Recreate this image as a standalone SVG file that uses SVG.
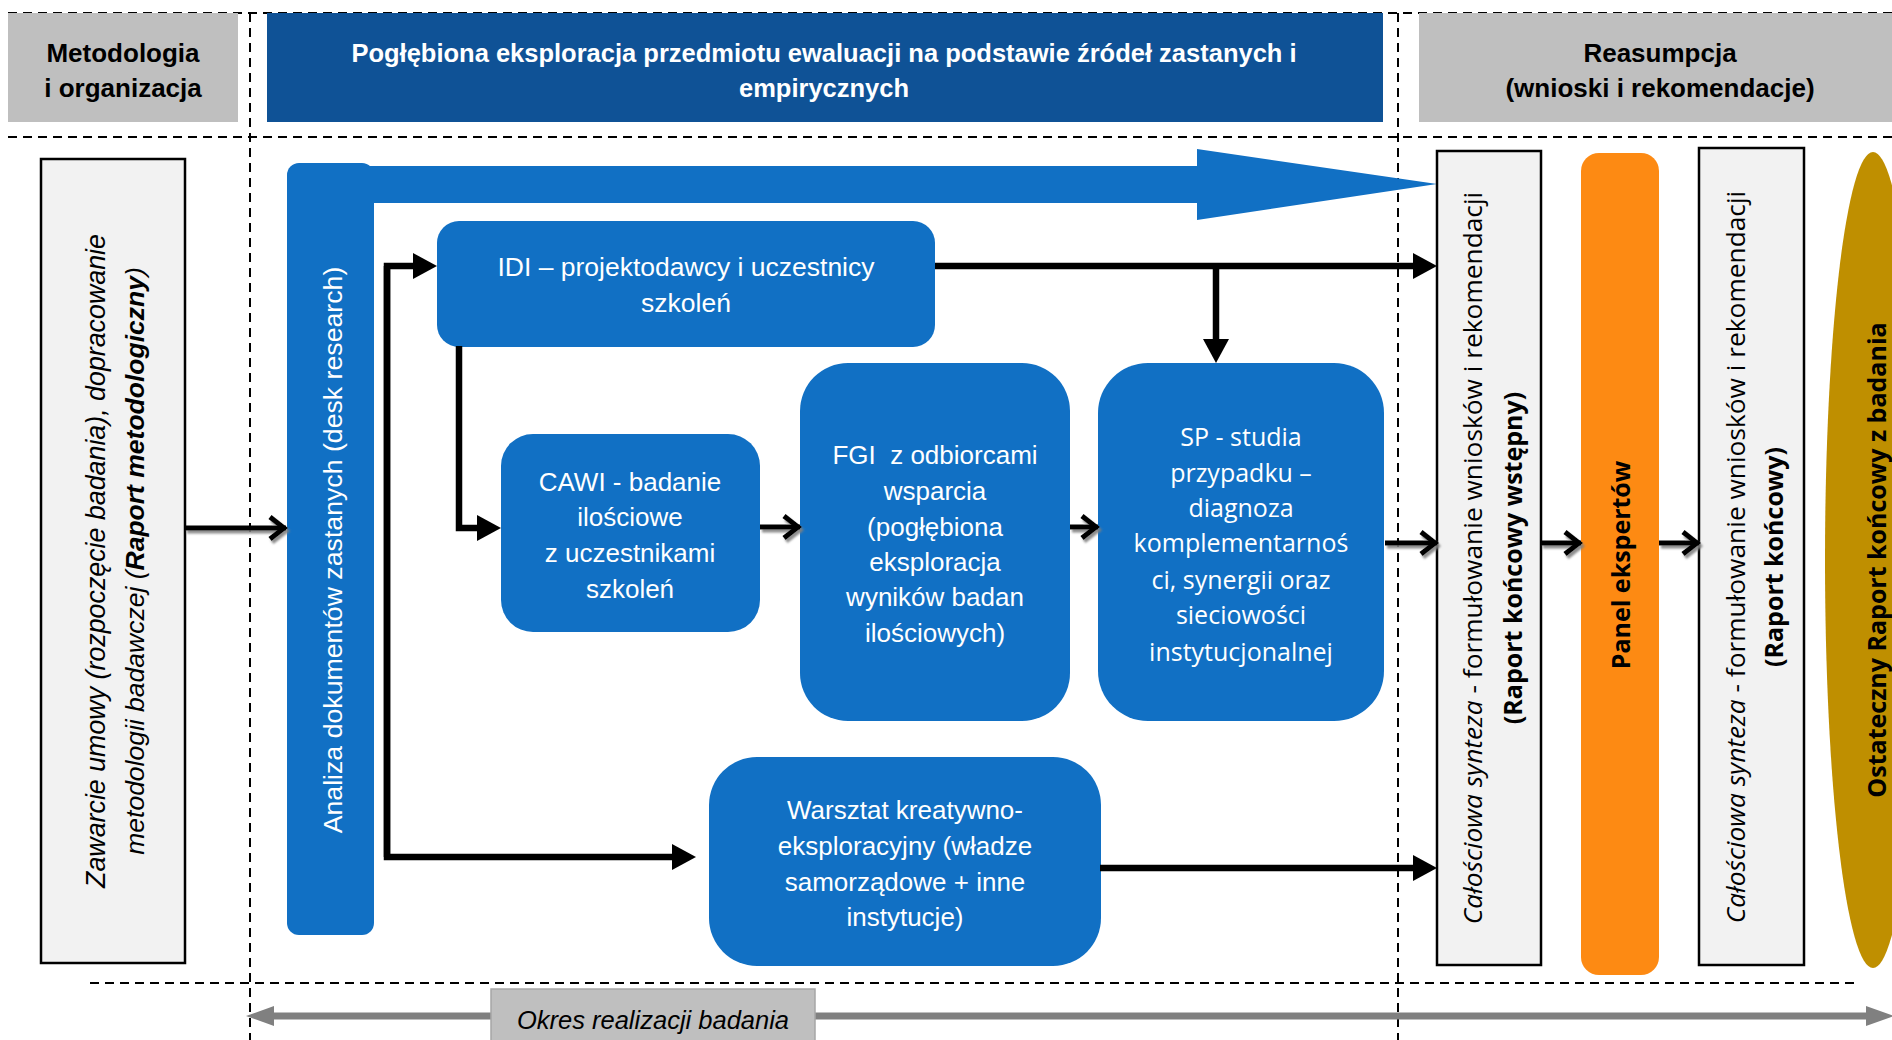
<svg xmlns="http://www.w3.org/2000/svg" width="1892" height="1040" viewBox="0 0 1892 1040">
<defs>
<style>
.dash{stroke:#000;stroke-width:2;stroke-dasharray:9 6;fill:none}
.hdr{font-family:"Liberation Sans",Arial,sans-serif;font-weight:bold;font-size:26px;text-anchor:middle}
.blue{fill:#1170C4}
.nt{font-family:"Liberation Sans",Arial,sans-serif;font-size:26px;fill:#fff;text-anchor:middle}
.ot{font-family:"Open Sans",sans-serif;font-size:25px;text-anchor:middle}
.rot{dominant-baseline:central}
.syn{fill:#F2F2F2;stroke:#000;stroke-width:2.5}
.ln{stroke:#000;stroke-width:6.5;fill:none;marker-end:url(#ah)}
.chev{stroke:#000;stroke-width:5;fill:none;marker-end:url(#ch);filter:url(#sh)}
</style>
<marker id="ah" markerUnits="userSpaceOnUse" markerWidth="26" markerHeight="26" refX="4" refY="13" orient="auto">
<path d="M0,0 L24,13 L0,26 z" fill="#000"/>
</marker>
<marker id="ch" markerUnits="userSpaceOnUse" markerWidth="24" markerHeight="30" refX="17" refY="13" orient="auto" style="overflow:visible">
<path d="M1,2 L15,13 L1,24" fill="none" stroke="#000" stroke-width="5"/>
</marker>
<marker id="gh" markerUnits="userSpaceOnUse" markerWidth="30" markerHeight="24" refX="4" refY="12" orient="auto-start-reverse">
<path d="M0,2 L28,12 L0,22 z" fill="#808080"/>
</marker>
<filter id="sh" filterUnits="userSpaceOnUse" x="0" y="0" width="1892" height="1040">
<feDropShadow dx="2" dy="3" stdDeviation="1" flood-color="#808080" flood-opacity="0.9"/>
</filter>
</defs>
<rect width="1892" height="1040" fill="#fff"/>

<g id="grid">
<path class="dash" d="M8,13 H1892"/>
<path class="dash" d="M8,137 H1892"/>
<path class="dash" d="M90,983 H1857"/>
<path class="dash" d="M250,13 V1040"/>
<path class="dash" d="M1398,13 V1040"/>
</g>

<g id="hdr-metodologia">
<rect x="8" y="13" width="230" height="109" fill="#BFBFBF"/>
<text class="hdr" x="123" y="62">Metodologia</text>
<text class="hdr" x="123" y="97">i organizacja</text>
</g>
<g id="hdr-poglebiona">
<rect x="267" y="13" width="1116" height="109" fill="#0F5296"/>
<text class="hdr" x="824" y="62" fill="#fff" style="font-size:25.5px">Pogłębiona eksploracja przedmiotu ewaluacji na podstawie źródeł zastanych i</text>
<text class="hdr" x="824" y="97" fill="#fff" style="font-size:25.5px">empirycznych</text>
</g>
<g id="hdr-reasumpcja">
<rect x="1419" y="13" width="473" height="109" fill="#BFBFBF"/>
<text class="hdr" x="1660" y="62">Reasumpcja</text>
<text class="hdr" x="1660" y="97">(wnioski i rekomendacje)</text>
</g>

<g id="n-umowa">
<rect x="41" y="159" width="144" height="804" fill="#F2F2F2" stroke="#000" stroke-width="2.5"/>
<text class="rot" font-family="Liberation Sans, Arial, sans-serif" font-size="26.8" font-style="italic" text-anchor="middle" transform="translate(96,561) rotate(-90)">Zawarcie umowy (rozpoczęcie badania), dopracowanie</text>
<text class="rot" font-family="Liberation Sans, Arial, sans-serif" font-size="26.5" font-style="italic" text-anchor="middle" transform="translate(135,561) rotate(-90)">metodologii badawczej (<tspan font-weight="bold">Raport metodologiczny</tspan>)</text>
</g>

<g id="n-desk">
<rect class="blue" x="287" y="163" width="87" height="772" rx="12"/>
<rect class="blue" x="360" y="166" width="840" height="37"/>
<polygon class="blue" points="1197,149 1437,184 1197,220"/>
<text class="nt rot" style="font-size:26.7px" transform="translate(333,550) rotate(-90)">Analiza dokumentów zastanych (desk research)</text>
</g>

<g id="n-idi">
<rect class="blue" x="437" y="221" width="498" height="126" rx="22"/>
<text class="nt" x="686" y="276" style="font-size:26.5px">IDI – projektodawcy i uczestnicy</text>
<text class="nt" x="686" y="312" style="font-size:26.5px">szkoleń</text>
</g>

<g id="n-cawi">
<rect class="blue" x="501" y="434" width="259" height="198" rx="32"/>
<text class="nt" x="630" y="491">CAWI - badanie</text>
<text class="nt" x="630" y="526">ilościowe</text>
<text class="nt" x="630" y="562">z uczestnikami</text>
<text class="nt" x="630" y="598">szkoleń</text>
</g>

<g id="n-fgi">
<rect class="blue" x="800" y="363" width="270" height="358" rx="48"/>
<text class="nt" x="935" y="464" style="white-space:pre">FGI  z odbiorcami</text>
<text class="nt" x="935" y="500">wsparcia</text>
<text class="nt" x="935" y="536">(pogłębiona</text>
<text class="nt" x="935" y="571">eksploracja</text>
<text class="nt" x="935" y="606">wyników badan</text>
<text class="nt" x="935" y="642">ilościowych)</text>
</g>

<g id="n-sp">
<rect class="blue" x="1098" y="363" width="286" height="358" rx="50"/>
<g class="ot" fill="#fff">
<text x="1241" y="446">SP - studia</text>
<text x="1241" y="482">przypadku –</text>
<text x="1241" y="517">diagnoza</text>
<text x="1241" y="552">komplementarnoś</text>
<text x="1241" y="589">ci, synergii oraz</text>
<text x="1241" y="624">sieciowości</text>
<text x="1241" y="661">instytucjonalnej</text>
</g>
</g>

<g id="n-warsztat">
<rect class="blue" x="709" y="757" width="392" height="209" rx="48"/>
<text class="nt" x="905" y="819">Warsztat kreatywno-</text>
<text class="nt" x="905" y="855">eksploracyjny (władze</text>
<text class="nt" x="905" y="891">samorządowe + inne</text>
<text class="nt" x="905" y="926">instytucje)</text>
</g>

<g id="n-synteza1">
<rect class="syn" x="1437" y="151" width="104" height="814"/>
<text class="ot rot" style="font-size:26.3px" transform="translate(1472,558) rotate(-90)"><tspan font-style="italic">Całościowa synteza</tspan> - formułowanie wniosków i rekomendacji</text>
<text class="ot rot" font-weight="bold" transform="translate(1512,558) rotate(-90)">(Raport końcowy wstępny)</text>
</g>

<g id="n-panel">
<rect x="1581" y="153" width="78" height="822" rx="18" fill="#FD8A13"/>
<text class="ot rot" font-weight="bold" transform="translate(1620,565) rotate(-90)">Panel ekspertów</text>
</g>

<g id="n-synteza2">
<rect class="syn" x="1699" y="148" width="105" height="817"/>
<text class="ot rot" style="font-size:26.3px" transform="translate(1735,557) rotate(-90)"><tspan font-style="italic">Całościowa synteza</tspan> - formułowanie wniosków i rekomendacji</text>
<text class="ot rot" font-weight="bold" transform="translate(1773,557) rotate(-90)">(Raport końcowy)</text>
</g>

<g id="n-ostateczny">
<ellipse cx="1873" cy="560" rx="48" ry="408" fill="#BF8F00"/>
<text class="ot rot" font-weight="bold" transform="translate(1876,560) rotate(-90)">Ostateczny Raport końcowy z badania</text>
</g>

<g id="n-okres">
<path d="M270,1016 H1870" stroke="#808080" stroke-width="7" fill="none" marker-start="url(#gh)" marker-end="url(#gh)"/>
<rect x="491" y="989" width="324" height="60" fill="#BFBFBF" stroke="#A6A6A6" stroke-width="1.5"/>
<text font-family="Liberation Sans, Arial, sans-serif" font-size="25.5" font-style="italic" text-anchor="middle" x="653" y="1029">Okres realizacji badania</text>
</g>

<g id="connectors">
<path class="ln" d="M387,857 V266 H417"/>
<path class="ln" d="M387,266 V857 H676"/>
<path class="ln" d="M459,346 V528 H481"/>
<path class="ln" d="M935,266 H1417"/>
<path class="ln" d="M1216,266 V343"/>
<path class="ln" d="M1100,868 H1417"/>
<path class="chev" d="M185,528 H286"/>
<path class="chev" d="M760,527 H800"/>
<path class="chev" d="M1070,527 H1098"/>
<path class="chev" d="M1385,543 H1437"/>
<path class="chev" d="M1541,543 H1581"/>
<path class="chev" d="M1659,543 H1699"/>
</g>
</svg>
